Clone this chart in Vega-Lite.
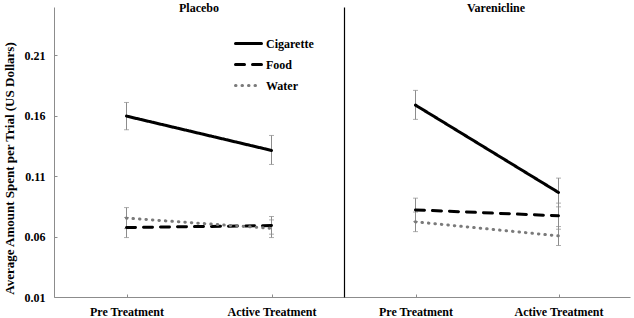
{
  "$schema": "https://vega.github.io/schema/vega-lite/v6.json",
  "autosize": {"type": "pad"},
  "padding": {"left": 3, "top": 2, "right": 3, "bottom": 0},
  "background": "white",
  "config": {
    "font": "Liberation Serif",
    "view": {"stroke": null},
    "concat": {"spacing": 0},
    "axis": {
      "labelFont": "Liberation Serif", "labelFontWeight": "bold", "labelFontSize": 12, "labelColor": "black",
      "titleFont": "Liberation Serif", "titleFontWeight": "bold", "titleFontSize": 13, "titleColor": "black",
      "domainColor": "#8c8c8c", "tickColor": "#8c8c8c", "grid": false
    },
    "title": {"font": "Liberation Serif", "fontWeight": "bold", "fontSize": 12, "color": "black"}
  },
  "data": {"values": [
    {"panel": "Placebo", "time": "Pre Treatment", "category": "Cigarette", "mean": 0.1597, "lower": 0.1484, "upper": 0.1710},
    {"panel": "Placebo", "time": "Pre Treatment", "category": "Food", "mean": 0.0675, "lower": 0.0592, "upper": 0.0758},
    {"panel": "Placebo", "time": "Pre Treatment", "category": "Water", "mean": 0.0753, "lower": 0.0666, "upper": 0.0840},
    {"panel": "Placebo", "time": "Active Treatment", "category": "Cigarette", "mean": 0.1313, "lower": 0.1197, "upper": 0.1437},
    {"panel": "Placebo", "time": "Active Treatment", "category": "Food", "mean": 0.0691, "lower": 0.0620, "upper": 0.0766},
    {"panel": "Placebo", "time": "Active Treatment", "category": "Water", "mean": 0.0668, "lower": 0.0592, "upper": 0.0738},
    {"panel": "Varenicline", "time": "Pre Treatment", "category": "Cigarette", "mean": 0.1688, "lower": 0.1570, "upper": 0.1810},
    {"panel": "Varenicline", "time": "Pre Treatment", "category": "Food", "mean": 0.0821, "lower": 0.0724, "upper": 0.0918},
    {"panel": "Varenicline", "time": "Pre Treatment", "category": "Water", "mean": 0.0722, "lower": 0.0641, "upper": 0.0803},
    {"panel": "Varenicline", "time": "Active Treatment", "category": "Cigarette", "mean": 0.0965, "lower": 0.0846, "upper": 0.1084},
    {"panel": "Varenicline", "time": "Active Treatment", "category": "Food", "mean": 0.0772, "lower": 0.0661, "upper": 0.0877},
    {"panel": "Varenicline", "time": "Active Treatment", "category": "Water", "mean": 0.0606, "lower": 0.0526, "upper": 0.0683}
  ]},
  "resolve": {
    "scale": {"color": "independent", "strokeDash": "independent"},
    "legend": {"color": "independent", "strokeDash": "independent"}
  },
  "hconcat": [
    {
      "width": 290, "height": 290,
      "title": {"text": "Placebo", "offset": -8},
      "transform": [{"filter": "datum.panel === 'Placebo'"}],
      "encoding": {
        "x": {"field": "time", "type": "nominal", "sort": ["Pre Treatment", "Active Treatment"],
              "scale": {"type": "point", "padding": 0.5},
              "axis": {"title": null, "labelAngle": 0, "tickSize": -3, "labelPadding": 12}}
      },
      "layer": [
        {
          "mark": {"type": "rule", "color": "#8c8c8c", "strokeWidth": 1},
          "encoding": {
            "y": {"field": "lower", "type": "quantitative",
                  "scale": {"domain": [0.01, 0.25], "nice": false, "zero": false},
                  "axis": {"values": [0.01, 0.06, 0.11, 0.16, 0.21], "format": ".2f",
                           "title": "Average Amount  Spent per Trial (US Dollars)",
                           "tickSize": -3, "labelPadding": 12, "titlePadding": 8, "titleY": 161}},
            "y2": {"field": "upper"}
          }
        },
        {
          "mark": {"type": "tick", "color": "#8c8c8c", "size": 5, "thickness": 1},
          "encoding": {"y": {"field": "lower", "type": "quantitative"}}
        },
        {
          "mark": {"type": "tick", "color": "#8c8c8c", "size": 5, "thickness": 1},
          "encoding": {"y": {"field": "upper", "type": "quantitative"}}
        },
        {
          "mark": {"type": "line", "strokeWidth": 3, "strokeCap": "round"},
          "encoding": {
            "y": {"field": "mean", "type": "quantitative"},
            "color": {"field": "category", "type": "nominal",
                      "scale": {"domain": ["Cigarette", "Food", "Water"], "range": ["black", "black", "#7a7a7a"]},
                      "legend": {"orient": "none", "legendX": 180, "legendY": 22, "title": null,
                                 "symbolType": "stroke", "symbolSize": 676, "symbolStrokeWidth": 3,
                                 "labelFont": "Liberation Serif", "labelFontWeight": "bold", "labelFontSize": 12,
                                 "labelColor": "black", "labelOffset": 3, "rowPadding": -1,
                                 "encode": {"symbols": {"update": {"strokeCap": {"value": "round"}}}}}},
            "strokeDash": {"field": "category", "type": "nominal",
                           "scale": {"domain": ["Cigarette", "Food", "Water"], "range": [[1, 0], [9, 8], [0.5, 6]]},
                           "legend": {"orient": "none", "legendX": 180, "legendY": 22, "title": null,
                                      "symbolType": "stroke", "symbolSize": 676, "symbolStrokeWidth": 3,
                                      "labelFont": "Liberation Serif", "labelFontWeight": "bold", "labelFontSize": 12,
                                      "labelColor": "black", "labelOffset": 3, "rowPadding": -1,
                                      "encode": {"symbols": {"update": {"strokeCap": {"value": "round"}}}}}}
          }
        }
      ]
    },
    {
      "width": 286, "height": 290,
      "title": {"text": "Varenicline", "offset": -8, "dx": 9},
      "transform": [{"filter": "datum.panel === 'Varenicline'"}],
      "encoding": {
        "x": {"field": "time", "type": "nominal", "sort": ["Pre Treatment", "Active Treatment"],
              "scale": {"type": "point", "padding": 0.5},
              "axis": {"title": null, "labelAngle": 0, "tickSize": -3, "labelPadding": 12}}
      },
      "layer": [
        {
          "mark": {"type": "rule", "color": "#8c8c8c", "strokeWidth": 1},
          "encoding": {
            "y": {"field": "lower", "type": "quantitative",
                  "scale": {"domain": [0.01, 0.25], "nice": false, "zero": false},
                  "axis": {"title": null, "labels": false, "ticks": false, "domainColor": "black", "domainWidth": 1.2}},
            "y2": {"field": "upper"}
          }
        },
        {
          "mark": {"type": "tick", "color": "#8c8c8c", "size": 5, "thickness": 1},
          "encoding": {"y": {"field": "lower", "type": "quantitative"}}
        },
        {
          "mark": {"type": "tick", "color": "#8c8c8c", "size": 5, "thickness": 1},
          "encoding": {"y": {"field": "upper", "type": "quantitative"}}
        },
        {
          "mark": {"type": "line", "strokeWidth": 3, "strokeCap": "round"},
          "encoding": {
            "y": {"field": "mean", "type": "quantitative"},
            "color": {"field": "category", "type": "nominal",
                      "scale": {"domain": ["Cigarette", "Food", "Water"], "range": ["black", "black", "#7a7a7a"]},
                      "legend": null},
            "strokeDash": {"field": "category", "type": "nominal",
                           "scale": {"domain": ["Cigarette", "Food", "Water"], "range": [[1, 0], [9, 8], [0.5, 6]]},
                           "legend": null}
          }
        }
      ]
    }
  ]
}
